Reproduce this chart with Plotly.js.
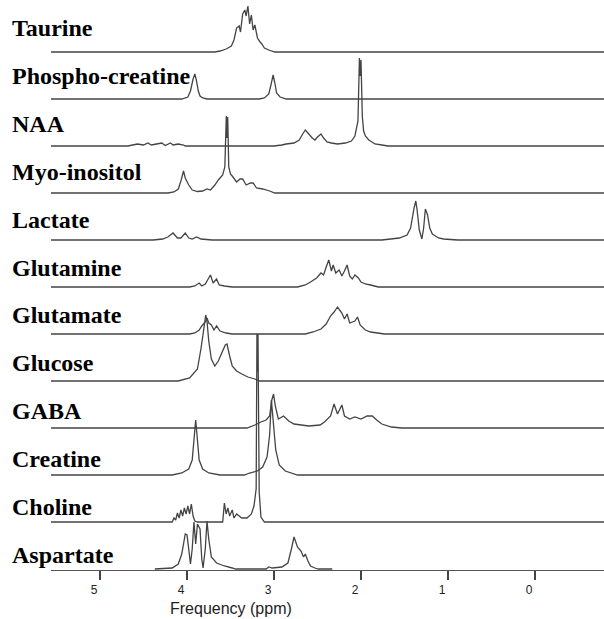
<!DOCTYPE html>
<html>
<head>
<meta charset="utf-8">
<script src="https://cdn.plot.ly/plotly-3.0.1.min.js"></script>
<style>
  html, body { margin: 0; padding: 0; background: #fff; }
  #chart { width: 604px; height: 619px; }
</style>
</head>
<body>
<div id="chart"></div>
<script>
// Metabolite reference spectra, stacked from top to bottom.
const metabolites = ['Taurine', 'Phospho-creatine', 'NAA', 'Myo-inositol', 'Lactate', 'Glutamine',
                     'Glutamate', 'Glucose', 'GABA', 'Creatine', 'Choline', 'Aspartate'];

const tickValues = [5, 4, 3, 2, 1, 0];
const tickLabels = ['5', '4', '3', '2', '1', '0'];
const axisTitle = 'Frequency (ppm)';

// Chemical shift (ppm) and signal amplitude (a.u.) of each spectrum
const taurinePpm = [3.68, 3.62, 3.55, 3.49, 3.46, 3.43, 3.40, 3.385, 3.36, 3.335, 3.32, 3.30, 3.28, 3.26, 3.24, 3.22, 3.19, 3.16, 3.14, 3.11, 3.06, 2.99];
const taurineAmp = [0, 1, 3, 6, 12, 24, 26, 20, 38, 42, 36, 46, 28, 37, 22, 27, 14, 10, 8, 4, 2, 0];

const phosphoCrPpm = [4.06, 3.99, 3.96, 3.93, 3.91, 3.895, 3.87, 3.85, 3.82, 3.77, 3.17, 3.11, 3.06, 3.035, 3.01, 2.99, 2.97, 2.93, 2.86];
const phosphoCrAmp = [0, 2, 8, 20, 25, 20, 8, 3, 1, 0, 0, 1, 5, 14, 24, 16, 6, 2, 0];

const naaPpm = [4.68, 4.57, 4.50, 4.45, 4.41, 4.35, 4.29, 4.25, 4.19, 4.16, 4.10, 4.04, 4.02,
                3.00, 2.91, 2.86, 2.77, 2.71, 2.67, 2.64, 2.61, 2.56, 2.53, 2.50, 2.46, 2.43, 2.39, 2.34, 2.27, 2.18, 2.11, 2.07,
                2.035, 2.018, 2.009, 2.0, 1.985, 1.97, 1.95, 1.91, 1.84, 1.76, 1.69];
const naaAmp = [0, 2, 1, 3, 1, 2, 3, 0.5, 3, 1, 2, 1, 0,
                0, 1, 2, 3, 6, 12, 16, 13, 8, 6, 9, 12, 8, 4, 3, 2, 3, 5, 10,
                25, 88, 70, 86, 30, 15, 10, 6, 2, 1, 0];

const myoPpm = [4.22, 4.15, 4.10, 4.07, 4.04, 4.02, 3.98, 3.94, 3.88, 3.82, 3.77, 3.73, 3.68, 3.64, 3.59, 3.565,
                3.548, 3.54, 3.532, 3.52, 3.50, 3.48, 3.43, 3.39, 3.36, 3.32, 3.27, 3.24, 3.20, 3.13, 3.05, 2.99];
const myoAmp = [0, 1, 4, 12, 22, 15, 8, 3, 1.5, 2, 4, 3, 8, 13, 18, 26,
                77, 55, 76, 26, 19, 17, 11, 14, 14, 8, 10, 10, 5, 4, 2, 0];

const lactatePpm = [4.39, 4.28, 4.22, 4.16, 4.11, 4.07, 4.02, 3.98, 3.94, 3.89, 3.84, 3.71,
                    1.76, 1.56, 1.47, 1.43, 1.39, 1.37, 1.355, 1.33, 1.30, 1.28, 1.26, 1.235, 1.21, 1.18, 1.11, 1.05, 0.89];
const lactateAmp = [0, 1, 3, 7, 2, 2, 7, 2, 1, 3, 1, 0,
                    0, 2, 5, 12, 32, 39, 30, 10, 1, 12, 31, 25, 12, 6, 2, 1, 0];

const glutaminePpm = [3.97, 3.91, 3.86, 3.83, 3.79, 3.73, 3.70, 3.66, 3.63, 3.57, 3.48,
                      2.73, 2.64, 2.58, 2.51, 2.46, 2.43, 2.40, 2.37, 2.34, 2.32, 2.29, 2.25, 2.22, 2.19, 2.16, 2.13, 2.10, 2.07, 2.03, 2.00, 1.95, 1.89, 1.80];
const glutamineAmp = [0, 1, 4, 1, 3, 12, 4, 8, 2, 1, 0,
                      0, 2, 5, 9, 14, 12, 20, 27, 16, 22, 14, 17, 11, 16, 22, 11, 8, 12, 9, 5, 3, 2, 0];

const glutamatePpm = [3.97, 3.91, 3.86, 3.83, 3.79, 3.77, 3.75, 3.72, 3.69, 3.66, 3.62, 3.55, 3.48,
                      2.64, 2.55, 2.46, 2.40, 2.35, 2.31, 2.27, 2.22, 2.19, 2.16, 2.13, 2.07, 2.04, 2.01, 1.95, 1.89, 1.73];
const glutamateAmp = [0, 1, 4, 8, 12, 16, 11, 9, 4, 8, 3, 1, 0,
                      0, 2, 5, 10, 18, 22, 27, 21, 15, 20, 11, 13, 17, 9, 4, 2, 0];

const glucosePpm = [4.10, 3.97, 3.88, 3.84, 3.81, 3.785, 3.77, 3.75, 3.72, 3.68, 3.64, 3.60, 3.56, 3.54, 3.51, 3.48, 3.43, 3.37, 3.30, 3.22, 3.17];
const glucoseAmp = [0, 3, 12, 32, 50, 66, 60, 40, 22, 15, 20, 28, 36, 37, 25, 15, 10, 7, 4, 2, 0];

const gabaPpm = [3.31, 3.22, 3.15, 3.09, 3.05, 3.025, 3.005, 2.985, 2.95, 2.89, 2.83, 2.77, 2.60, 2.47, 2.42, 2.35, 2.31,
                 2.27, 2.22, 2.19, 2.13, 2.07, 2.00, 1.93, 1.87, 1.82, 1.76, 1.65, 1.53];
const gabaAmp = [0, 3, 6, 8, 12, 28, 34, 22, 9, 12, 7, 4, 2, 3, 6, 12, 24,
                 14, 23, 12, 9, 11, 9, 12, 12, 8, 4, 1, 0];

const creatinePpm = [4.17, 4.06, 3.98, 3.94, 3.92, 3.90, 3.88, 3.86, 3.82, 3.75, 3.62,
                     3.34, 3.28, 3.19, 3.13, 3.08, 3.05, 3.03, 3.01, 2.98, 2.94, 2.87, 2.73];
const creatineAmp = [0, 2, 6, 15, 35, 55, 35, 15, 6, 2, 0,
                     0, 2, 4, 8, 18, 40, 75, 55, 25, 10, 4, 0];

const cholinePpm = [4.17, 4.15, 4.13, 4.11, 4.09, 4.07, 4.05, 4.03, 4.01, 3.99, 3.97, 3.95, 3.93, 3.91, 3.88,
                    3.59, 3.57, 3.55, 3.53, 3.51, 3.48, 3.46, 3.43, 3.37, 3.31, 3.26, 3.23, 3.205,
                    3.196, 3.19, 3.184, 3.17, 3.15, 3.11];
const cholineAmp = [0, 4, 2, 9, 4, 12, 6, 14, 8, 16, 8, 18, 6, 1, 0,
                    0, 19, 8, 14, 6, 12, 4, 8, 4, 4, 8, 16, 33,
                    188, 150, 188, 30, 5, 0];

const aspartatePpm = [4.37, 4.17, 4.10, 4.06, 4.02, 4.00, 3.98, 3.96, 3.94, 3.92, 3.90, 3.88, 3.85, 3.83, 3.815,
                      3.79, 3.77, 3.75, 3.72, 3.66, 3.57, 3.48, 3.44, 3.09, 3.06, 3.02, 2.91, 2.84, 2.80, 2.77,
                      2.73, 2.69, 2.66, 2.64, 2.61, 2.58, 2.53, 2.49, 2.33];
const aspartateAmp = [0, 1, 5, 15, 35, 34, 20, 5, 20, 47, 25, 45, 40, 10, 1,
                      20, 48, 30, 12, 6, 3, 1, 0, 0, 2, 1, 2, 6, 20, 32,
                      22, 18, 12, 15, 8, 3, 1, 0, 0];

const spectraPpm = [taurinePpm, phosphoCrPpm, naaPpm, myoPpm, lactatePpm, glutaminePpm,
                    glutamatePpm, glucosePpm, gabaPpm, creatinePpm, cholinePpm, aspartatePpm];
const spectraAmp = [taurineAmp, phosphoCrAmp, naaAmp, myoAmp, lactateAmp, glutamineAmp,
                    glutamateAmp, glucoseAmp, gabaAmp, creatineAmp, cholineAmp, aspartateAmp];

// Layout constants
const W = 604, H = 619;
const M = { l: 51, r: 0, t: 0, b: 49 };
const plotH = H - M.t - M.b;
const xRange = [5.563, -0.793];           // reversed chemical-shift axis
const step = 47;                          // vertical offset between stacked spectra
const yRange = [-1, plotH - 1];
const lineColor = '#444';

const n = metabolites.length;
const traces = metabolites.map((name, i) => {
  const offset = (n - 1 - i) * step;
  const ppm = spectraPpm[i], amp = spectraAmp[i];
  const isBottom = i === n - 1;   // bottom spectrum sits on the axis line
  const x = isBottom ? ppm.slice() : [xRange[0], ...ppm, xRange[1]];
  const yv = isBottom ? amp.map(a => offset + a) : [offset, ...amp.map(a => offset + a), offset];
  return {
    type: 'scatter', mode: 'lines', name, x, y: yv,
    line: { color: lineColor, width: 1.3, simplify: false },
    hoverinfo: 'name+x', showlegend: false
  };
});

// Metabolite names, left of each spectrum
const labelFirst = 28, labelStep = 47.9;
const annotations = metabolites.map((name, i) => ({
  text: '<b>' + name + '</b>',
  xref: 'paper', yref: 'paper',
  x: 0, xanchor: 'left', xshift: -41,
  y: 1 - (labelFirst + labelStep * i) / plotH, yanchor: 'middle',
  showarrow: false,
  font: { family: 'Liberation Serif, Times New Roman, serif', size: 24, color: '#000' }
}));

annotations.push({
  text: axisTitle,
  xref: 'x', yref: 'paper',
  x: 3.49, y: 1 - 608 / plotH, xanchor: 'center', yanchor: 'middle',
  showarrow: false,
  font: { family: 'Liberation Sans, Arial, sans-serif', size: 16, color: '#222' }
});

const layout = {
  width: W, height: H,
  margin: M,
  paper_bgcolor: '#fff', plot_bgcolor: '#fff',
  showlegend: false,
  xaxis: {
    range: xRange, autorange: false,
    showgrid: false, zeroline: false,
    showline: true, linecolor: '#555', linewidth: 1,
    ticks: 'outside', ticklen: 9, tickwidth: 1.5, tickcolor: '#444',
    tickvals: tickValues, ticktext: tickLabels,
    ticklabelshift: 6,
    tickfont: { family: 'Liberation Sans, Arial, sans-serif', size: 12, color: '#222' }
  },
  yaxis: {
    range: yRange, autorange: false, visible: false,
    showgrid: false, zeroline: false
  },
  annotations
};

Plotly.newPlot('chart', traces, layout, { displayModeBar: false, staticPlot: true });
</script>
</body>
</html>
